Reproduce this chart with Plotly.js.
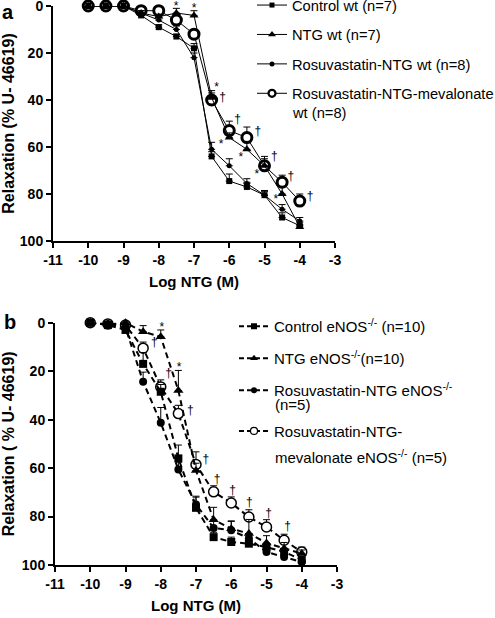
<!DOCTYPE html>
<html>
<head>
<meta charset="utf-8">
<script src="https://cdn.plot.ly/plotly-3.0.1.min.js"></script>
<style>html,body{margin:0;padding:0;background:#fff;}#chart{width:495px;height:618px;}</style>
</head>
<body>
<div id="chart"></div>
<script>
// ---------- data ----------
const logNTG = [-10,-9.5,-9,-8.5,-8,-7.5,-7,-6.5,-6,-5.5,-5,-4.5,-4];

// panel a (wild type)
const controlWt   = [0,0,0,4,9,13,18,64,74.5,77,80.5,90,93.5];
const ntgWt       = [0,0,0,3,4.5,3,4,39,56,61,68,80,94];
const rosuWt      = [0,0,0,3,6,10,22,61,68,75.5,80.5,86.5,91.5];
const mevWt       = [0,0,0,2,2,6,12,40,53,56,68,75,83];
const controlWtErr = [0,0,0,1,1,1,2,2,3,2,1.5,2,1.5];
const ntgWtErr     = [0,0,0,1,1,2,2,3,2,3,3,3,1];
const rosuWtErr    = [0,0,0,1,1,1.5,2,3,3,2,2,2,1.5];
const mevWtErr     = [0,0,0,1,1,2,2,3,4,4.5,4,3,3];

// panel b (eNOS-/-)
const controlKo   = [0,1,3,17,28.5,56,76.4,88.5,90.5,91.2,92.6,94.6,97.8];
const ntgKo       = [0,0.5,0,3.7,5.8,28,61,81.3,85,87,90.9,93.2,95.3];
const rosuKo      = [0,0.5,2,24.4,41.3,60.6,75,84.7,85.7,89,94.6,96.7,98.8];
const mevKo       = [0,0.5,1,10.5,26.5,37.5,58.5,69.8,74.4,80.2,84.3,89.8,94.6];
const controlKoErr = [0,1,1,4.7,3,5.5,4.8,2,2,2,1.5,1.5,1];
const ntgKoErr     = [0,1,1,2.5,2.8,8.3,3,5.1,3,5.8,3,2.5,1.5];
const rosuKoErr    = [0,0.5,1,4,6.3,3,3,3,3.9,2,2,2,1];
const mevKoErr     = [0,1,1,2.5,2.9,3.4,5.2,2.5,2.5,3,3,2.5,2];

// significance marks (data coordinates)
const starA_x = [-7.51,-7.0,-6.36,-6.23,-5.67,-5.22,-4.68];
const starA_y = [0.6,1.3,34.9,59.0,64.7,71.8,82.6];
const dagA_x  = [-6.19,-5.76,-5.19,-4.72,-4.25,-3.71];
const dagA_y  = [39.3,48.5,53.5,64.4,72.6,81.4];
const starB_x = [-8.44,-7.97,-7.48];
const starB_y = [-0.2,2.1,18.7];
const dagB_x  = [-8.18,-7.78,-7.16,-6.72,-6.40,-5.96,-5.49,-4.94,-4.40];
const dagB_y  = [8.3,21.2,36.5,56.7,64.8,69.5,74.5,79,84.3];

// labels
const xTickVals = [-11,-10,-9,-8,-7,-6,-5,-4,-3];
const xTickText = ['-11','-10','-9','-8','-7','-6','-5','-4','-3'];
const yTickVals = [0,20,40,60,80,100];
const yTickText = ['0','20','40','60','80','100'];
const namesA = ['Control wt (n=7)','NTG wt (n=7)','Rosuvastatin-NTG wt (n=8)','Rosuvastatin-NTG-mevalonate'];
const namesA2 = ['wt (n=8)'];
const namesB = ['Control eNOS<sup>-/-</sup> (n=10)','NTG eNOS<sup>-/-</sup>(n=10)','Rosuvastatin-NTG eNOS<sup>-/-</sup>','Rosuvastatin-NTG-'];
const namesB2 = ['(n=5)','mevalonate eNOS<sup>-/-</sup> (n=5)'];

// ---------- build ----------
const FONT = 'Liberation Sans, Arial, Helvetica, sans-serif';
const W = 495, H = 618;

function series(y, err, sub, marker, line) {
  return {
    x: logNTG, y: y, type: 'scatter', mode: 'lines+markers', showlegend: false,
    xaxis: sub === 1 ? 'x' : 'x2', yaxis: sub === 1 ? 'y' : 'y2',
    cliponaxis: false, line: line, marker: marker, hoverinfo: 'skip',
    error_y: {type: 'data', symmetric: false, array: y.map(() => 0), arrayminus: err,
              color: '#000', thickness: 1, width: 3.5}
  };
}
// legend-only entries (no data) so legend symbols can be small like the reference
function key(name, rank, sub, marker, line, legend, group) {
  return {x: [null], y: [null], type: 'scatter', mode: 'lines+markers', name: name,
    xaxis: sub === 1 ? 'x' : 'x2', yaxis: sub === 1 ? 'y' : 'y2',
    legend: legend, legendgroup: group, legendrank: rank, line: line, marker: marker};
}
const solid = {color: '#000', width: 1};
const dashed = {color: '#000', width: 2, dash: '6px,4px'};
const dashedKey = {color: '#000', width: 2, dash: '5px,3px'};

const traces = [
  series(mevWt, mevWtErr, 1, {symbol: 'circle', size: 10, color: '#fff', line: {color: '#000', width: 3}}, solid),
  series(controlWt, controlWtErr, 1, {symbol: 'square', size: 6, color: '#000'}, solid),
  series(ntgWt, ntgWtErr, 1, {symbol: 'triangle-up', size: 8, color: '#000'}, solid),
  series(rosuWt, rosuWtErr, 1, {symbol: 'circle', size: 5, color: '#000'}, solid),

  series(mevKo, mevKoErr, 2, {symbol: 'circle', size: 10, color: '#fff', line: {color: '#000', width: 1.5}}, dashed),
  series(controlKo, controlKoErr, 2, {symbol: 'square', size: 8, color: '#000'}, dashed),
  series(ntgKo, ntgKoErr, 2, {symbol: 'triangle-up', size: 9, color: '#000'}, dashed),
  series(rosuKo, rosuKoErr, 2, {symbol: 'circle', size: 8, color: '#000'}, dashed),

  key(namesA[0], 1, 1, {symbol: 'square', size: 5, color: '#000'}, solid, 'legend', 'a1'),
  key(namesA[1], 2, 1, {symbol: 'triangle-up', size: 7, color: '#000'}, solid, 'legend', 'a2'),
  key(namesA[2], 3, 1, {symbol: 'circle', size: 5, color: '#000'}, solid, 'legend', 'a3'),
  key(namesA[3], 4, 1, {symbol: 'circle', size: 7, color: '#fff', line: {color: '#000', width: 2.2}}, solid, 'legend', 'a4'),

  key(namesB[0], 1, 2, {symbol: 'square', size: 6, color: '#000'}, dashedKey, 'legend2', 'b1'),
  key(namesB[1], 2, 2, {symbol: 'triangle-up', size: 7, color: '#000'}, dashedKey, 'legend2', 'b2'),
  key(namesB[2], 3, 2, {symbol: 'circle', size: 6, color: '#000'}, dashedKey, 'legend2', 'b3'),
  key(namesB[3], 4, 2, {symbol: 'circle', size: 7, color: '#fff', line: {color: '#000', width: 1.2}}, dashedKey, 'legend3', 'b4'),
];

function marks(xs, ys, ch, sub) {
  return {x: xs, y: ys, type: 'scatter', mode: 'text', text: xs.map(() => ch),
    textposition: 'middle center', textfont: {family: FONT, size: 12, color: '#000'},
    xaxis: sub === 1 ? 'x' : 'x2', yaxis: sub === 1 ? 'y' : 'y2',
    showlegend: false, hoverinfo: 'skip', cliponaxis: false};
}
traces.push(marks(starA_x, starA_y, '*', 1));
traces.push(marks(dagA_x, dagA_y, '\u2020', 1));
traces.push(marks(starB_x, starB_y, '*', 2));
traces.push(marks(dagB_x, dagB_y, '\u2020', 2));

const tickFont = {family: FONT, size: 14, color: '#000', weight: 'bold'};
const xTitleFont = {family: FONT, size: 15, color: '#000', weight: 'bold'};
const yTitleFont = {family: FONT, size: 16, color: '#000', weight: 'bold'};

function xAxis(dom, anchor) {
  return {domain: dom, anchor: anchor, range: [-11, -3], tickmode: 'array',
    tickvals: xTickVals, ticktext: xTickText, ticks: 'outside', ticklen: 5, tickwidth: 2,
    tickcolor: '#000', showline: true, linewidth: 2, linecolor: '#000', showgrid: false,
    zeroline: false, tickfont: tickFont, fixedrange: true, ticklabeloverflow: 'allow',
    title: {text: 'Log NTG (M)', font: xTitleFont, standoff: 10}};
}
function yAxis(dom, anchor, title) {
  return {domain: dom, anchor: anchor, range: [100, 0], tickmode: 'array',
    tickvals: yTickVals, ticktext: yTickText, ticks: 'outside', ticklen: 5, tickwidth: 2,
    tickcolor: '#000', showline: true, linewidth: 2, linecolor: '#000', showgrid: false,
    zeroline: false, tickfont: tickFont, fixedrange: true, ticklabeloverflow: 'allow',
    title: {text: title, font: yTitleFont, standoff: 3}};
}

const fontA = {family: FONT, size: 14.7, color: '#000'};
const fontB = {family: FONT, size: 15, color: '#000'};
function legendBox(xpx, ytop, gap, f) {
  return {x: xpx / W, y: 1 - ytop / H, xanchor: 'left', yanchor: 'top', bgcolor: 'rgba(0,0,0,0)',
    borderwidth: 0, font: f, tracegroupgap: gap, traceorder: 'grouped'};
}
function textLine(t, xpx, ypx, f) {
  return {text: t, x: xpx / W, y: 1 - ypx / H, xref: 'paper', yref: 'paper', showarrow: false,
    xanchor: 'left', yanchor: 'middle', font: f};
}

const layout = {
  width: W, height: H, margin: {l: 0, r: 0, t: 0, b: 0, autoexpand: false},
  paper_bgcolor: '#fff', plot_bgcolor: '#fff',
  font: {family: FONT, color: '#000'},
  xaxis: xAxis([53/W, 335/W], 'y'),
  yaxis: yAxis([1 - 241/H, 1 - 6/H], 'x', 'Relaxation (% U- 46619)'),
  xaxis2: xAxis([55/W, 337/W], 'y2'),
  yaxis2: yAxis([1 - 565/H, 1 - 322.7/H], 'x2', 'Relaxation ( % U- 46619)'),
  showlegend: true,
  legend: legendBox(252, -11, 7.3, fontA),
  legend2: legendBox(234, 310, 9.5, fontB),
  legend3: legendBox(234, 414.7, 0, fontB),
  annotations: [
    {text: 'a', x: 8/W, y: 1 - 12/H, xref: 'paper', yref: 'paper', showarrow: false,
     xanchor: 'center', yanchor: 'middle', font: {family: FONT, size: 20, weight: 'bold', color: '#000'}},
    {text: 'b', x: 10/W, y: 1 - 322/H, xref: 'paper', yref: 'paper', showarrow: false,
     xanchor: 'center', yanchor: 'middle', font: {family: FONT, size: 20, weight: 'bold', color: '#000'}},
    textLine(namesA2[0], 290, 113.3, fontA),
    textLine(namesB2[0], 273, 404, fontB),
    textLine(namesB2[1], 273, 456.7, fontB)
  ]
};

Plotly.newPlot('chart', traces, layout, {staticPlot: true, displayModeBar: false});
</script>
</body>
</html>
